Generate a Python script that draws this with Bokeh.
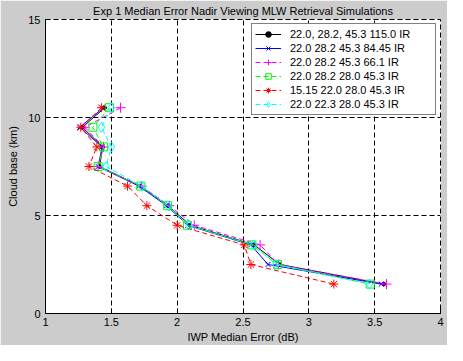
from bokeh.plotting import figure
from bokeh.models import FixedTicker
from bokeh.embed import file_html
from bokeh.resources import INLINE

# ---- data ----
cloud_base = [10.5, 9.5, 8.5, 7.5, 6.5, 5.5, 4.5, 3.5, 2.5, 1.5]
err_115 = [1.45, 1.28, 1.435, 1.41, 1.72, 1.93, 2.10, 2.585, 2.78, 3.57]
err_8445 = [1.44, 1.26, 1.43, 1.40, 1.71, 1.92, 2.08, 2.56, 2.69, 3.55]
err_661 = [1.57, 1.30, 1.44, 1.40, 1.73, 1.94, 2.13, 2.63, 2.77, 3.59]
err_280 = [1.486, 1.36, 1.44, 1.40, 1.724, 1.927, 2.078, 2.567, 2.762, 3.466]
err_1515 = [1.425, 1.268, 1.39, 1.33, 1.623, 1.77, 2.00, 2.509, 2.56, 3.19]
err_223 = [1.50, 1.425, 1.50, 1.46, 1.73, 1.93, 2.09, 2.58, 2.75, 3.46]

labels = [
    "22.0, 28.2, 45.3 115.0 IR",
    "22.0 28.2 45.3 84.45 IR",
    "22.0 28.2 45.3 66.1 IR",
    "22.0 28.2 28.0 45.3 IR",
    "15.15 22.0 28.0 45.3 IR",
    "22.0 22.3 28.0 45.3 IR",
]

x_ticks = [1, 1.5, 2, 2.5, 3, 3.5, 4]
x_tick_labels = ["1", "1.5", "2", "2.5", "3", "3.5", "4"]
y_ticks = [0, 5, 10, 15]
y_tick_labels = ["0", "5", "10", "15"]

title_text = "Exp 1 Median Error Nadir Viewing MLW Retrieval Simulations"
x_label = "IWP Median Error (dB)"
y_label = "Cloud base (km)"

FONT = "Liberation Sans"

p = figure(width=447, height=345, output_backend="svg", toolbar_location=None,
           x_range=(1, 4), y_range=(0, 15), title=title_text,
           min_border_left=45, min_border_right=7, min_border_top=0,
           min_border_bottom=28)
p.border_fill_color = "#cccccc"
p.background_fill_color = "white"
p.outline_line_color = "black"
p.outline_line_dash = "5 3"

p.title.align = "center"
p.title.text_font = FONT
p.title.text_font_size = "11px"
p.title.text_font_style = "normal"
p.title.text_color = "black"
p.title.standoff = 5
p.title.offset = 0

# axes
p.xaxis.ticker = FixedTicker(ticks=x_ticks)
p.yaxis.ticker = FixedTicker(ticks=y_ticks)
p.xaxis.major_label_overrides = {t: l for t, l in zip(x_ticks, x_tick_labels)}
p.yaxis.major_label_overrides = {t: l for t, l in zip(y_ticks, y_tick_labels)}
for ax in (p.xaxis, p.yaxis):
    ax.axis_line_color = "black"
    ax.major_tick_line_color = "black"
    ax.major_tick_in = 5
    ax.major_tick_out = 0
    ax.minor_tick_line_color = None
    ax.major_label_text_font = FONT
    ax.major_label_text_font_size = "11px"
    ax.major_label_text_color = "black"
    ax.axis_label_text_font = FONT
    ax.axis_label_text_font_size = "11px"
    ax.axis_label_text_font_style = "normal"
    ax.axis_label_text_color = "black"
p.xaxis.axis_label = x_label
p.yaxis.axis_label = y_label
p.xaxis.major_label_standoff = 4
p.xaxis.axis_label_standoff = 2
p.yaxis.major_label_standoff = 5
p.yaxis.axis_label_standoff = 6

# grid
p.xgrid.ticker = FixedTicker(ticks=x_ticks)
p.ygrid.ticker = FixedTicker(ticks=y_ticks)
for g in (p.xgrid, p.ygrid):
    g.grid_line_color = "black"
    g.grid_line_dash = "5 3"
    g.grid_line_width = 1

# series
series = [
    (err_115, "black", "solid", "circle", 3.5, True),
    (err_8445, "#0000ff", "solid", "x", 7, False),
    (err_661, "#ff00ff", "5 3", "cross", 10, False),
    (err_280, "#00ff00", "5 3", "square", 8, False),
    (err_1515, "#ff0000", "5 3", "asterisk", 9, False),
    (err_223, "#00ffff", "5 3", "diamond", 10, False),
]
for (xs, color, dash, marker, size, filled), lab in zip(series, labels):
    p.line(xs, cloud_base, line_color=color, line_dash=dash, line_width=1,
           legend_label=lab)
    p.scatter(xs, cloud_base, marker=marker, size=size, line_color=color,
              fill_color=color if filled else None, line_width=1,
              legend_label=lab)

leg = p.legend[0]
leg.location = "top_right"
leg.margin = 4
leg.padding = 3
leg.spacing = 0
leg.glyph_width = 26
leg.glyph_height = 14
leg.label_height = 14
leg.label_width = 142
leg.label_standoff = 9
leg.label_text_font = FONT
leg.label_text_font_size = "11px"
leg.label_text_color = "black"
leg.border_line_color = "black"
leg.border_line_width = 1
leg.background_fill_color = "white"
leg.background_fill_alpha = 1.0

open("out.html", "w").write(file_html(p, INLINE))
